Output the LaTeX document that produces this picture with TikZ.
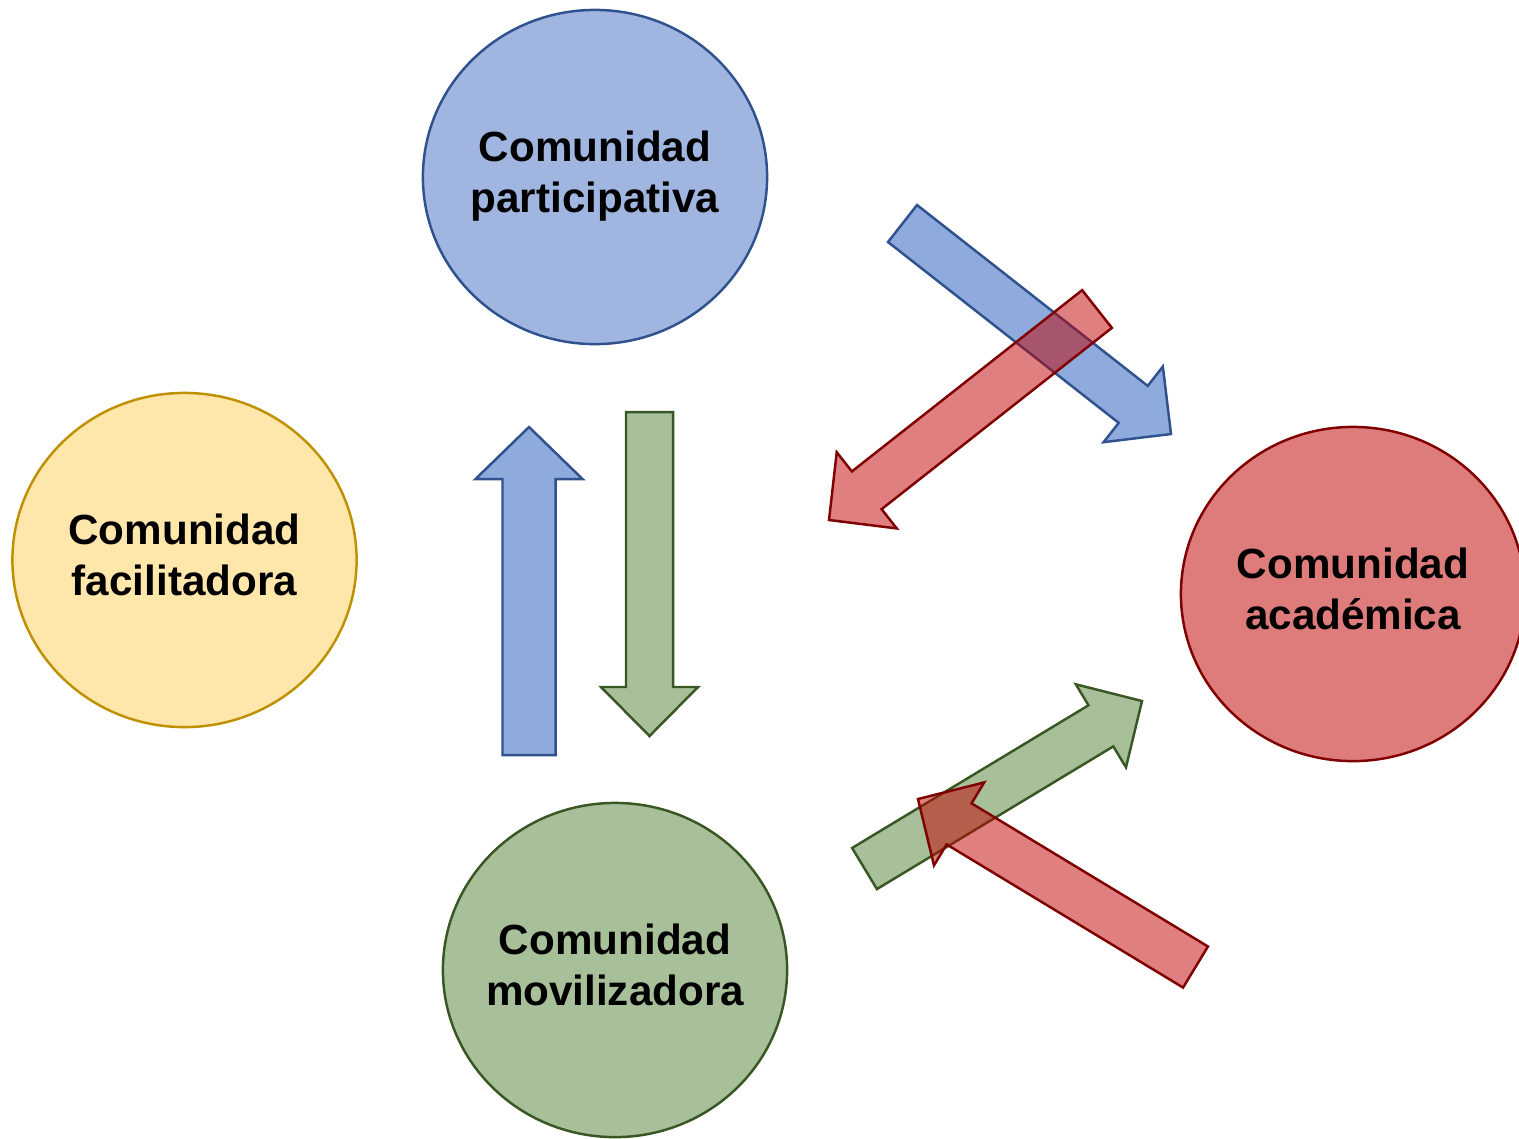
\documentclass[tikz,border=0pt]{standalone}
\usepackage{fontspec}
\setmainfont{Liberation Sans}
\usetikzlibrary{calc, shapes.geometric}
\usepackage{xcolor}

\definecolor{partfill}{HTML}{A0B6E0}
\definecolor{partline}{HTML}{2F528F}
\definecolor{bluearr}{HTML}{8FAADC}
\definecolor{facfill}{HTML}{FFE7AC}
\definecolor{facline}{HTML}{BF9000}
\definecolor{acadfill}{HTML}{DE7C7C}
\definecolor{acadline}{HTML}{800000}
\definecolor{redarr}{HTML}{C00000}
\definecolor{movfill}{HTML}{A8C09A}
\definecolor{movline}{HTML}{385723}

% block arrow: style, tail, tip, half body width, half head width, head length
\newcommand{\blockarrow}[6]{%
	\coordinate (hb) at ($(#3)!#6!(#2)$);
	\draw[#1] ($(#2)!#4!90:(#3)$) -- ($(hb)!#4!90:(#3)$) -- ($(hb)!#5!90:(#3)$) -- (#3)
	-- ($(hb)!#5!-90:(#3)$) -- ($(hb)!#4!-90:(#3)$) -- ($(#2)!#4!-90:(#3)$) -- cycle;}

\begin{document}
\begin{tikzpicture}[
			x=0.01cm, y=-0.01cm,
			comm/.style={
				ellipse, line width=0.7pt, inner sep=0pt,
				minimum width=3.44cm, minimum height=3.34cm
			},
			commtext/.style={
				align=center, yshift=0.05cm,
				font=\fontsize{12}{14.5}\selectfont\bfseries
			},
			arr/.style={line width=0.7pt, line join=miter},
			]
			\useasboundingbox (0,0) rectangle (1519,1138);
			
			% ── Communities ──────────────────────────────────────────────────
			\node[comm, fill=partfill, draw=partline,
			label={[commtext, yshift=-0.04cm, name=part-text]center:Comunidad\\participativa}] (part) at (595, 177) {};
			\node[comm, fill=facfill, draw=facline,
			label={[commtext, name=fac-text]center:Comunidad\\facilitadora}] (fac) at (184.5, 560) {};
			\node[comm, fill=acadfill, draw=acadline,
			label={[commtext, name=acad-text]center:Comunidad\\acad\'emica}] (acad) at (1353, 594) {};
			\node[comm, fill=movfill, draw=movline,
			label={[commtext, name=mov-text]center:Comunidad\\movilizadora}] (mov) at (615, 970) {};
			
			% ── Arrow ends ───────────────────────────────────────────────────
			\coordinate (up-tail) at (529, 755);
			\coordinate (up-tip) at (529, 427);
			\coordinate (down-tail) at (649.5, 412);
			\coordinate (down-tip) at (649.5, 736);
			\coordinate (pa-tail) at (902.5, 223.5);
			\coordinate (pa-tip) at (1171, 434);
			\coordinate (ap-tail) at (1097, 309);
			\coordinate (ap-tip) at (829, 520);
			\coordinate (ma-tail) at (864.5, 868.5);
			\coordinate (ma-tip) at (1142, 701);
			\coordinate (am-tail) at (1195.5, 967);
			\coordinate (am-tip) at (918, 799);
			
			% ── Between participativa and movilizadora ───────────────────────
			\blockarrow{arr, fill=bluearr, draw=partline}{up-tail}{up-tip}{0.265cm}{0.535cm}{0.52cm}
			\blockarrow{arr, fill=movfill, draw=movline}{down-tail}{down-tip}{0.235cm}{0.485cm}{0.49cm}
			
			% ── Towards and from academica ───────────────────────────────────
			\blockarrow{arr, fill=bluearr, draw=partline}{pa-tail}{pa-tip}{0.235cm}{0.48cm}{0.48cm}
			\blockarrow{arr, fill=redarr, fill opacity=0.5, draw=acadline}{ap-tail}{ap-tip}{0.24cm}{0.485cm}{0.48cm}
			\blockarrow{arr, fill=movfill, draw=movline}{ma-tail}{ma-tip}{0.24cm}{0.485cm}{0.48cm}
			\blockarrow{arr, fill=redarr, fill opacity=0.5, draw=acadline}{am-tail}{am-tip}{0.24cm}{0.485cm}{0.48cm}
			
		\end{tikzpicture}
\end{document}
